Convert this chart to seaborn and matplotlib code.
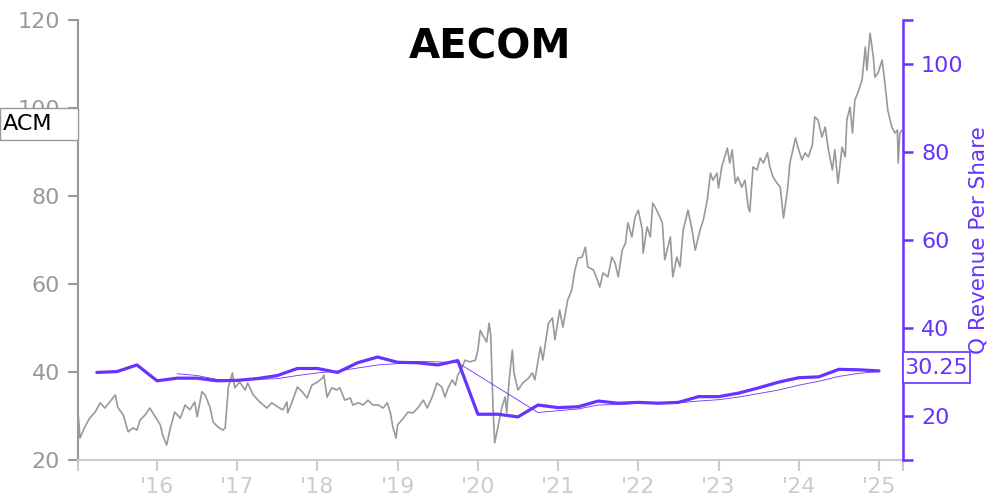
import matplotlib
matplotlib.use("Agg")
import matplotlib.pyplot as plt
from matplotlib.patches import Rectangle
import seaborn as sns
import pandas as pd

# ---------------- data ----------------
price_years = [
    2015.02, 2015.04, 2015.10, 2015.16, 2015.23, 2015.29, 2015.35, 2015.41, 2015.48, 2015.51,
    2015.58, 2015.64, 2015.70, 2015.75, 2015.79, 2015.85, 2015.91, 2015.98,
    2016.04, 2016.07, 2016.12, 2016.16, 2016.22, 2016.29, 2016.35, 2016.41, 2016.47, 2016.50,
    2016.56, 2016.60, 2016.66, 2016.70, 2016.76, 2016.82, 2016.85, 2016.89, 2016.94, 2016.97,
    2017.03, 2017.10, 2017.13, 2017.20, 2017.28, 2017.37, 2017.43, 2017.51, 2017.57, 2017.62,
    2017.63, 2017.68, 2017.75, 2017.81, 2017.87, 2017.93,
    2018.00, 2018.06, 2018.08, 2018.12, 2018.18, 2018.24, 2018.28, 2018.34, 2018.41, 2018.44,
    2018.51, 2018.57, 2018.63, 2018.69, 2018.76, 2018.82, 2018.87, 2018.91, 2018.94, 2018.98,
    2019.00, 2019.07, 2019.13, 2019.19, 2019.25, 2019.32, 2019.37, 2019.43, 2019.49, 2019.55,
    2019.59, 2019.63, 2019.68, 2019.72, 2019.75, 2019.80, 2019.84, 2019.90, 2019.97,
    2020.00, 2020.03, 2020.06, 2020.11, 2020.14, 2020.16, 2020.19, 2020.21, 2020.25, 2020.30,
    2020.34, 2020.36, 2020.39, 2020.43, 2020.45, 2020.50, 2020.56, 2020.63, 2020.68, 2020.71,
    2020.78, 2020.81, 2020.88, 2020.93, 2020.96,
    2021.02, 2021.06, 2021.12, 2021.17, 2021.21, 2021.25, 2021.30, 2021.34, 2021.37, 2021.44,
    2021.49, 2021.52, 2021.56, 2021.62, 2021.67, 2021.71, 2021.75, 2021.80, 2021.84, 2021.87,
    2021.92, 2021.96,
    2022.00, 2022.05, 2022.06, 2022.11, 2022.15, 2022.18, 2022.23, 2022.30, 2022.33, 2022.40,
    2022.43, 2022.48, 2022.52, 2022.56, 2022.62, 2022.67, 2022.71, 2022.77, 2022.81, 2022.86,
    2022.90, 2022.93, 2022.98,
    2023.00, 2023.04, 2023.11, 2023.14, 2023.17, 2023.21, 2023.24, 2023.29, 2023.33, 2023.37,
    2023.39, 2023.43, 2023.48, 2023.52, 2023.56, 2023.61, 2023.64, 2023.68, 2023.73, 2023.77,
    2023.81, 2023.86, 2023.89, 2023.96, 2023.99,
    2024.04, 2024.08, 2024.12, 2024.17, 2024.20, 2024.24, 2024.29, 2024.33, 2024.37, 2024.42,
    2024.45, 2024.49, 2024.54, 2024.58, 2024.60, 2024.64, 2024.67, 2024.70, 2024.74, 2024.79,
    2024.83, 2024.85, 2024.89, 2024.93, 2024.95, 2024.99,
    2025.04, 2025.08, 2025.11, 2025.16, 2025.20, 2025.23, 2025.24, 2025.26, 2025.29,
]
price_values = [
    29.8, 25.0, 27.5, 29.5, 30.9, 33.0, 31.8, 33.2, 34.8, 32.0,
    30.2, 26.4, 27.3, 26.8, 29.1, 30.2, 31.8, 29.8,
    28.0, 25.7, 23.4, 26.8, 30.9, 29.5, 32.5, 31.4, 33.2, 29.8,
    35.5, 34.8, 32.0, 28.6, 27.5, 26.8, 27.3, 36.6, 39.8, 36.4,
    37.7, 35.9, 37.5, 34.8, 33.2, 31.8, 33.0, 32.0, 31.4, 33.2,
    30.7, 33.0, 36.6, 35.5, 34.1, 37.0,
    37.7, 38.6, 39.3, 34.3, 36.4, 35.9, 36.4, 33.6, 34.1, 32.5,
    33.0, 32.5, 33.6, 32.5, 32.5, 31.8, 33.0, 30.7, 27.5, 25.0,
    28.0, 29.5, 30.9, 30.7, 31.8, 33.6, 31.8, 34.3, 37.5, 36.6,
    34.3, 36.4, 38.2, 37.0, 39.3, 40.9, 42.7, 42.3, 42.7,
    45.0, 49.5, 48.4, 46.8, 51.1, 48.4, 31.4, 23.9, 27.5, 32.0,
    34.3, 30.7, 38.2, 45.0, 39.8, 35.9, 37.5, 38.6, 39.8, 38.2,
    45.7, 42.7, 51.1, 52.3, 47.3,
    54.1, 50.2, 56.4, 58.6, 63.2, 65.9, 66.1, 68.4, 63.9, 63.2,
    60.9, 59.3, 62.5, 61.6, 66.1, 64.8, 61.6, 67.7, 69.3, 73.9,
    70.7, 75.2,
    76.8, 72.3, 67.0, 73.0, 70.7, 78.4, 76.8, 73.9, 65.5, 70.7,
    61.6, 66.1, 63.9, 72.3, 76.8, 72.3, 67.7, 72.3, 74.5, 79.1,
    85.2, 83.6, 85.2,
    81.8, 86.6, 90.9, 87.5, 90.5, 82.9, 84.3, 82.0, 83.6, 77.5,
    76.4, 86.6, 85.9, 88.6, 87.5, 89.8, 86.6, 84.3, 82.9, 82.0,
    75.0, 81.4, 87.5, 93.2, 91.1,
    88.2, 89.8, 88.9, 91.6, 98.0, 97.3, 93.4, 95.7, 90.5, 85.9,
    90.5, 82.9, 91.1, 88.9, 97.3, 100.2, 94.3, 101.8, 103.6, 106.4,
    113.9, 108.6, 117.0, 111.6, 107.0, 108.0,
    110.9, 104.8, 99.5, 95.7, 94.3, 95.0, 87.5, 94.3, 95.0,
]

rev_years = [
    2015.25, 2015.50, 2015.75, 2016.00, 2016.25, 2016.50, 2016.75, 2017.00,
    2017.25, 2017.50, 2017.75, 2018.00, 2018.25, 2018.50, 2018.75, 2019.00,
    2019.25, 2019.50, 2019.75, 2020.00, 2020.25, 2020.50, 2020.75, 2021.00,
    2021.25, 2021.50, 2021.75, 2022.00, 2022.25, 2022.50, 2022.75, 2023.00,
    2023.25, 2023.50, 2023.75, 2024.00, 2024.25, 2024.50, 2024.75, 2025.00,
]
rev_values = [
    29.9, 30.1, 31.6, 28.0, 28.6, 28.6, 28.0, 28.1,
    28.5, 29.2, 30.8, 30.8, 29.9, 32.1, 33.4, 32.2,
    32.1, 31.6, 32.6, 20.4, 20.4, 19.8, 22.5, 21.9,
    22.1, 23.4, 22.9, 23.1, 22.9, 23.1, 24.4, 24.4,
    25.2, 26.4, 27.7, 28.7, 28.9, 30.6, 30.5, 30.25,
]

avg_years = [
    2016.25, 2016.50, 2016.75, 2017.00, 2017.25, 2017.50, 2017.75, 2018.00,
    2018.25, 2018.50, 2018.75, 2019.00, 2019.25, 2019.50, 2019.75,
    2020.75, 2021.00, 2021.25, 2021.50, 2021.75, 2022.00, 2022.25, 2022.50,
    2022.75, 2023.00, 2023.25, 2023.50, 2023.75, 2024.00, 2024.25, 2024.50,
    2024.75, 2025.00,
]
avg_values = [
    29.6, 29.2, 28.3, 28.3, 28.3, 28.5, 29.2, 29.8,
    30.2, 30.9, 31.6, 31.9, 32.4, 32.3, 32.1,
    20.8, 21.2, 21.6, 22.5, 22.6, 22.9, 23.1, 23.0,
    23.4, 23.7, 24.3, 25.1, 25.9, 27.0, 27.9, 29.0,
    29.7, 30.1,
]

year_ticks = [2016, 2017, 2018, 2019, 2020, 2021, 2022, 2023, 2024, 2025]
year_labels = ["'16", "'17", "'18", "'19", "'20", "'21", "'22", "'23", "'24", "'25"]
left_ticks = [20, 40, 60, 80, 100, 120]
right_ticks = [20, 40, 60, 80, 100]

ticker = "ACM"
company = "AECOM"
right_label = "Q Revenue Per Share"
last_value_label = "30.25"

# ---------------- styling ----------------
sns.set_style("white")
plt.rcParams["font.family"] = ["DejaVu Sans"]

PURPLE = "#6633ff"
GRAY = "#999999"
LIGHT = "#cccccc"

price_df = pd.DataFrame({"year": price_years, "price": price_values})
rev_df = pd.DataFrame({"year": rev_years, "rev": rev_values})
avg_df = pd.DataFrame({"year": avg_years, "avg": avg_values})

fig = plt.figure(figsize=(10, 5), dpi=100)
ax = fig.add_axes([0.078, 0.08, 0.825, 0.88])
ax2 = ax.twinx()

sns.lineplot(data=price_df, x="year", y="price", ax=ax, color=GRAY,
             linewidth=1.2, estimator=None, sort=True)
sns.lineplot(data=avg_df, x="year", y="avg", ax=ax2, color=PURPLE,
             linewidth=0.6, estimator=None)
sns.lineplot(data=rev_df, x="year", y="rev", ax=ax2, color=PURPLE,
             linewidth=2.3, estimator=None)

ax.set_xlim(2015.015, 2025.30)
ax.set_ylim(20, 120)
ax2.set_ylim(10, 110)

ax.set_xlabel("")
ax.set_ylabel("")
ax2.set_xlabel("")

# left axis
ax.set_yticks(left_ticks)
ax.tick_params(axis="y", which="major", direction="out", length=7, width=1.5,
               color=GRAY, labelcolor=GRAY, labelsize=16, pad=6, left=True)
# bottom axis
ax.set_xticks(year_ticks)
ax.set_xticklabels(year_labels)
ax.set_xticks([2015.015, 2025.30], minor=True)
ax.tick_params(axis="x", which="both", direction="out", length=8, width=1.5,
               color=LIGHT, labelcolor=LIGHT, labelsize=16, pad=4, bottom=True)

for side in ["top", "right"]:
    ax.spines[side].set_visible(False)
ax.spines["left"].set_color(GRAY)
ax.spines["left"].set_linewidth(1.5)
ax.spines["bottom"].set_color(LIGHT)
ax.spines["bottom"].set_linewidth(1.5)

# right axis
for side in ["top", "left", "bottom"]:
    ax2.spines[side].set_visible(False)
ax2.spines["right"].set_color(PURPLE)
ax2.spines["right"].set_linewidth(1.8)
ax2.set_yticks(right_ticks)
ax2.set_yticks([10, 110], minor=True)
ax2.tick_params(axis="y", which="both", direction="out", length=7, width=1.8,
                color=PURPLE, labelcolor=PURPLE, labelsize=16, pad=6, right=True)
ax2.set_ylabel(right_label, color=PURPLE, fontsize=15.5)
ax2.yaxis.set_label_position("right")
ax2.yaxis.set_label_coords(1.08, 0.5)

# ticker box at left
fig.add_artist(Rectangle((0.0, 0.72), 0.078, 0.064, transform=fig.transFigure,
                         facecolor="white", edgecolor=GRAY, linewidth=1.0, zorder=10))
fig.text(0.003, 0.751, ticker, fontsize=16, color="black", ha="left", va="center", zorder=11)

# last value box at right
fig.add_artist(Rectangle((0.903, 0.234), 0.067, 0.062, transform=fig.transFigure,
                         facecolor="white", edgecolor=PURPLE, linewidth=1.2, zorder=10))
fig.text(0.9365, 0.265, last_value_label, fontsize=16, color=PURPLE,
         ha="center", va="center", zorder=11)

# logo
fig.text(0.49, 0.905, company, fontsize=29, fontweight="heavy", color="black",
         ha="center", va="center", fontstyle="normal")

fig.savefig("out.png", dpi=100)
